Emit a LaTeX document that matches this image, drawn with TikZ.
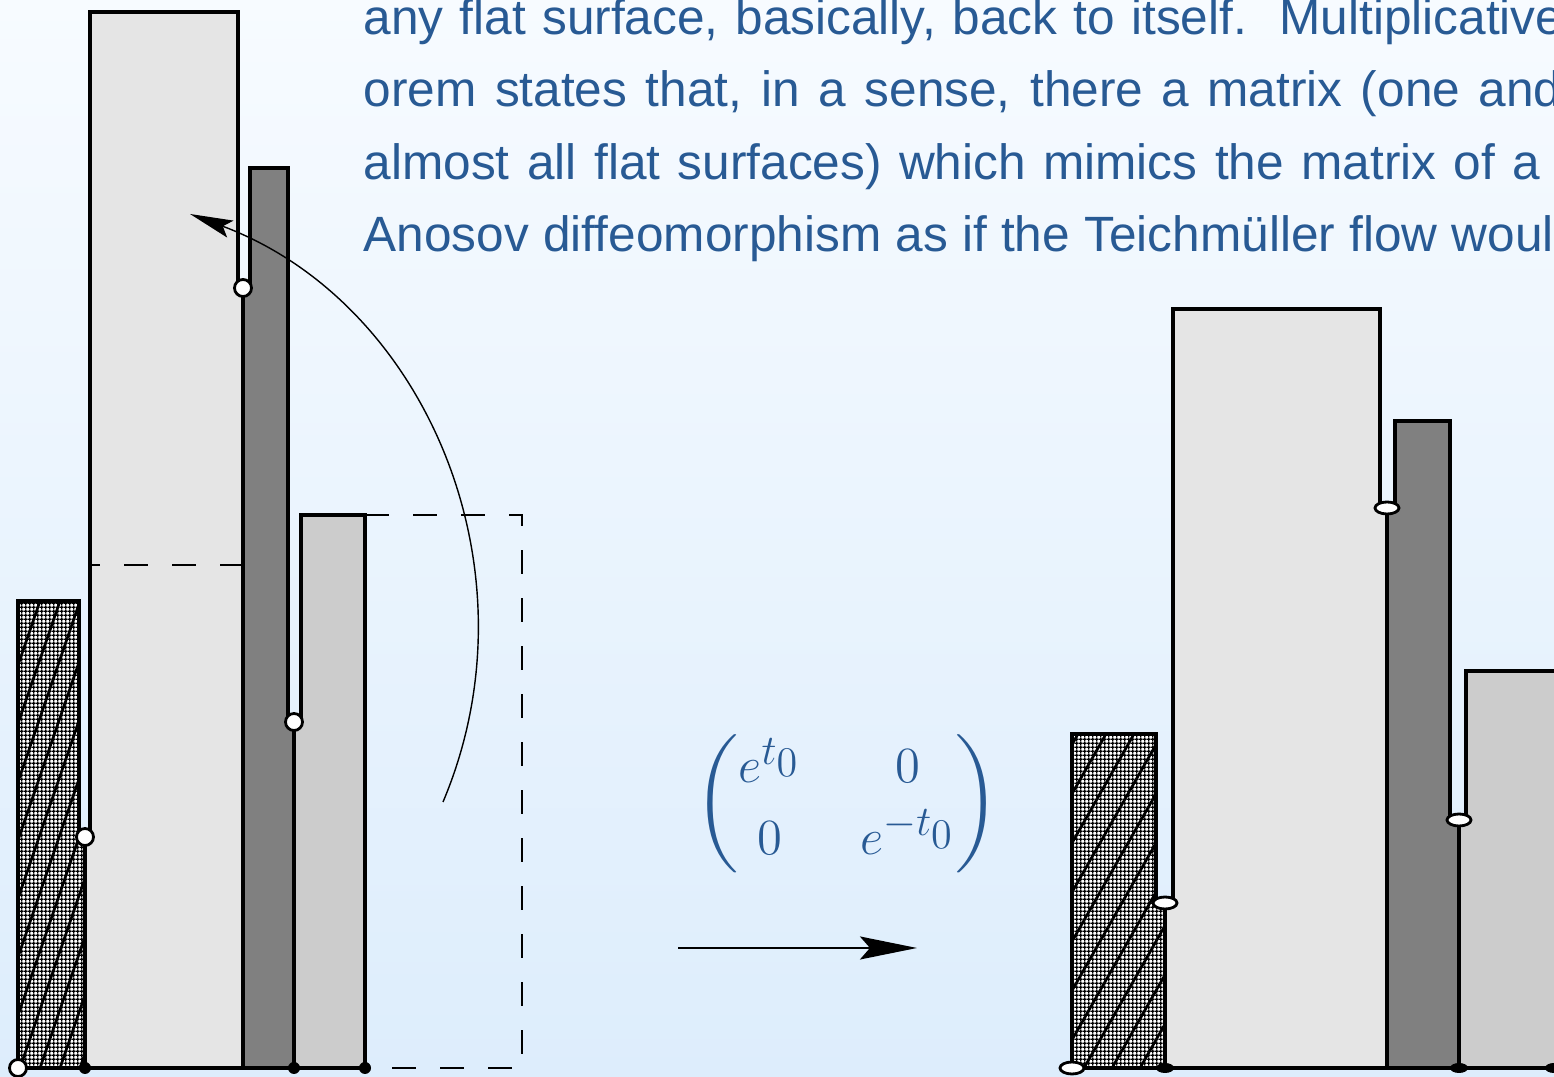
\documentclass[tikz,border=0pt]{standalone}
\usepackage{amsmath}
\usepackage{graphicx}
\usepackage{fontspec}
\usepackage{tikz}
\usetikzlibrary{arrows.meta, patterns}
\newfontfamily\slidefont{Liberation Sans}
\DeclareMathSizes{14.4}{14.4}{12}{12}
\newcommand{\tallparen}[1]{\vcenter{\hbox{\scalebox{1.1}[0.91]{$\Bigg#1$}}}}
\definecolor{slideblue}{RGB}{40, 90, 148}
\definecolor{bgtop}{RGB}{247, 251, 255}
\definecolor{bgbottom}{RGB}{221, 237, 252}
\definecolor{palebar}{gray}{0.9}
\definecolor{darkbar}{gray}{0.5}
\definecolor{midbar}{gray}{0.8}

\pgfdeclarepatternformonly{finegrid}{\pgfpointorigin}{\pgfqpoint{1.2pt}{1.2pt}}{\pgfqpoint{1.2pt}{1.2pt}}{%
  \pgfsetlinewidth{0.45pt}
  \pgfpathmoveto{\pgfqpoint{0pt}{0.6pt}}\pgfpathlineto{\pgfqpoint{1.2pt}{0.6pt}}
  \pgfpathmoveto{\pgfqpoint{0.6pt}{0pt}}\pgfpathlineto{\pgfqpoint{0.6pt}{1.2pt}}
  \pgfusepath{stroke}}

\tikzset{
  slidetext/.style={anchor=base west, inner sep=0pt, text=slideblue,
    font=\slidefont\fontsize{14.1pt}{20.5pt}\selectfont},
  bar/.style={draw=black, line width=0.95pt},
  opendot/.style={fill=white, draw=black, line width=0.8pt},
  fulldot/.style={fill=black},
  dashline/.style={dash pattern=on 2.4mm off 2.4mm, line width=0.6pt},
  hatchline/.style={line width=0.75pt}
}

\begin{document}
\begin{tikzpicture}[x=0.01cm, y=-0.01cm]
  % Page and backdrop
  \useasboundingbox (0,0) rectangle (1554,1077);
  \shade[top color=bgtop, bottom color=bgbottom] (0,0) rectangle (1554,1077);
  \clip (0,0) rectangle (1554,1077);

  % Slide text, justified and cut off by the page edge
  \node[slidetext] (line1) at (363,35) {\makebox[11.99cm][s]{any flat surface, basically, back to itself.\ \ Multiplicative}};
  \node[slidetext] (line2) at (363,107) {\makebox[11.97cm][s]{orem states that, in a sense, there a matrix (one and}};
  \node[slidetext] (line3) at (363,180) {\makebox[11.76cm][s]{almost all flat surfaces) which mimics the matrix of a}};
  \node[slidetext] (line4) at (363,252) {\makebox[12.17cm][s]{Anosov diffeomorphism as if the Teichm\"uller flow would}};

  % Original surface
  \begin{scope}
    \clip (18,1068) -- (18,601) -- (79,601) -- (79,837) -- (85,837) -- (85,1068) -- cycle;
    \fill[white] (0,590) rectangle (100,1077);
    \fill[pattern=finegrid] (0,590) rectangle (100,1077);
    \foreach \x in {-200,-180,...,100}
      \draw[hatchline] (\x,1068) -- ++(160,-467);
  \end{scope}
  \draw[bar] (18,1068) -- (18,601) -- (79,601) -- (79,837) -- (85,837) -- (85,1068);
  \draw[bar, fill=palebar] (85,1068) -- (85,837) -- (90,837) -- (90,12) -- (238,12) -- (238,288) -- (243,288) -- (243,1068) -- cycle;
  \draw[bar, fill=darkbar] (243,1068) -- (243,288) -- (250,288) -- (250,168) -- (288,168) -- (288,722) -- (294,722) -- (294,1068) -- cycle;
  \draw[bar, fill=midbar] (294,1068) -- (294,722) -- (301,722) -- (301,515) -- (365,515) -- (365,1068) -- cycle;
  \draw[dashline, dash phase=1.4mm] (90,565) -- (243,565);
  \draw[dashline] (365,515) -- (522,515) -- (522,1068) -- (365,1068);
  \draw[line width=1.2pt] (18,1068) -- (365,1068);
  \filldraw[opendot] (18,1068) circle[radius=0.85mm];
  \filldraw[opendot] (85,837) circle[radius=0.85mm];
  \filldraw[opendot] (243,288) circle[radius=0.85mm];
  \filldraw[opendot] (294,722) circle[radius=0.85mm];
  \fill[fulldot] (85,1068) circle[radius=0.6mm];
  \fill[fulldot] (294,1068) circle[radius=0.6mm];
  \fill[fulldot] (365,1068) circle[radius=0.6mm];

  % Turning arrow
  \coordinate (arcstart) at (443,802);
  \coordinate (arcend) at (190,214);
  \draw[line width=0.4pt, -{Stealth[length=4.3mm, width=1.8mm, inset=0.8mm]}]
    (arcstart) .. controls (541,570) and (425,302) .. (arcend);

  % Matrix and map arrow
  \node[text=slideblue, font=\fontsize{14.4pt}{20.4pt}\selectfont] (stretch) at (847,804)
    {$\setlength\arraycolsep{8.5pt}\tallparen(\begin{matrix} e^{t_0} & 0\\ 0 & e^{-t_0}\end{matrix}\tallparen)$};
  \coordinate (mapstart) at (678,948);
  \coordinate (mapend) at (917,948);
  \draw[line width=0.6pt, -{Stealth[length=5.7mm, width=2.3mm, inset=1mm]}] (mapstart) -- (mapend);

  % Stretched surface
  \begin{scope}
    \clip (1072,1068) -- (1072,734) -- (1156,734) -- (1156,903) -- (1165,903) -- (1165,1068) -- cycle;
    \fill[white] (1060,720) rectangle (1180,1077);
    \fill[pattern=finegrid] (1060,720) rectangle (1180,1077);
    \foreach \x in {860,888,...,1170}
      \draw[hatchline] (\x,1068) -- ++(190,-334);
  \end{scope}
  \draw[bar] (1072,1068) -- (1072,734) -- (1156,734) -- (1156,903) -- (1165,903) -- (1165,1068);
  \draw[bar, fill=palebar] (1165,1068) -- (1165,903) -- (1173,903) -- (1173,309) -- (1380,309) -- (1380,508) -- (1387,508) -- (1387,1068) -- cycle;
  \draw[bar, fill=darkbar] (1387,1068) -- (1387,508) -- (1395,508) -- (1395,421) -- (1450,421) -- (1450,820) -- (1459,820) -- (1459,1068) -- cycle;
  \draw[bar, fill=midbar] (1459,1068) -- (1459,820) -- (1466,820) -- (1466,671) -- (1556,671) -- (1556,1068) -- cycle;
  \draw[line width=1pt] (1072,1068) -- (1556,1068);
  \filldraw[opendot] (1072,1068) ellipse[x radius=1.2mm, y radius=0.6mm];
  \filldraw[opendot] (1165,903) ellipse[x radius=1.2mm, y radius=0.6mm];
  \filldraw[opendot] (1387,508) ellipse[x radius=1.2mm, y radius=0.6mm];
  \filldraw[opendot] (1459,820) ellipse[x radius=1.2mm, y radius=0.6mm];
  \fill[fulldot] (1165,1068) ellipse[x radius=0.9mm, y radius=0.5mm];
  \fill[fulldot] (1459,1068) ellipse[x radius=0.9mm, y radius=0.5mm];
  \fill[fulldot] (1554,1068) ellipse[x radius=0.9mm, y radius=0.5mm];
\end{tikzpicture}
\end{document}
